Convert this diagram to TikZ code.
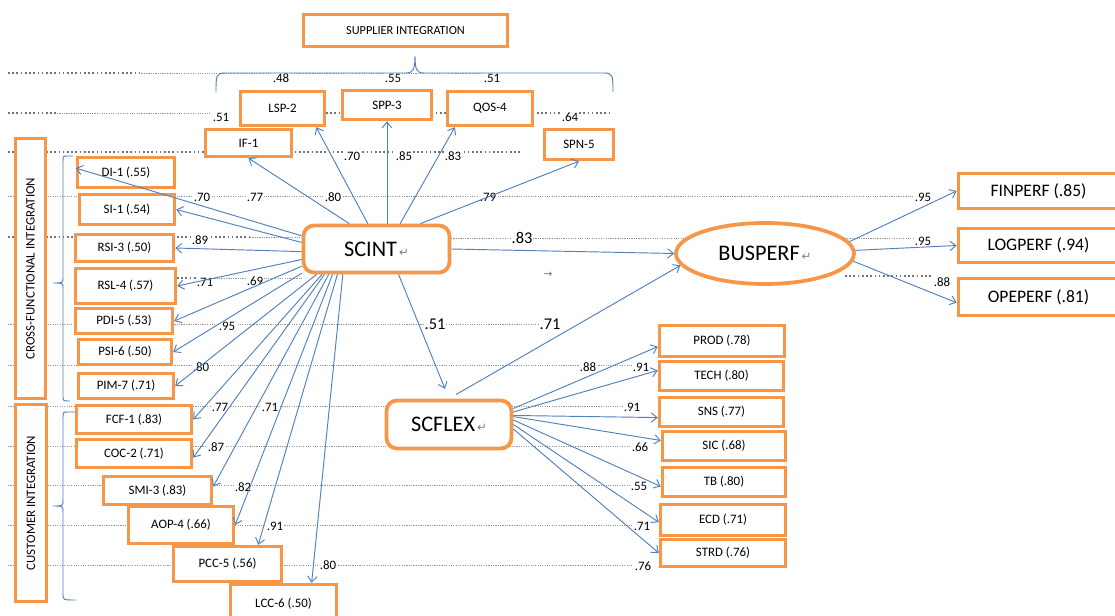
\documentclass[tikz,border=0pt]{standalone}
\usepackage{fontspec}
\setmainfont{Carlito}
\newfontfamily\symfont{DejaVu Sans}
\usetikzlibrary{arrows.meta,shapes.geometric}
\definecolor{borange}{RGB}{247,150,70}
\definecolor{ablue}{RGB}{79,129,189}
\definecolor{dotgray}{RGB}{150,150,150}
\definecolor{dotdark}{RGB}{115,115,115}
\newcommand{\retmark}{{\symfont\color{gray}\fontsize{10}{10}\selectfont\,↵}}
\begin{document}
\begin{tikzpicture}[x=0.03cm,y=-0.03cm,
  wh/.style 2 args={minimum width=#1*0.03cm, minimum height=#2*0.03cm},
  box/.style={draw=borange, line width=2.9pt, fill=white, inner sep=0pt, font=\fontsize{11}{12}\selectfont},
  bigbox/.style={draw=borange, line width=3.2pt, fill=white, inner sep=0pt, font=\fontsize{15}{17}\selectfont},
  rbox/.style={draw=borange, line width=3.2pt, rounded corners=9pt, fill=white, inner sep=0pt, font=\fontsize{19}{22}\selectfont},
  vbox/.style={draw=borange, line width=2.9pt, fill=white, inner sep=0pt},
  arr/.style={draw=ablue, line width=0.8pt, -{Straight Barb[length=5pt,width=8pt]}},
  coef/.style={fill=white, inner sep=0.5pt, font=\fontsize{11}{12}\selectfont},
  bigcoef/.style={fill=white, inner sep=0.5pt, font=\fontsize{14}{16}\selectfont},
  dotrow/.style={draw=dotgray, line width=0.55pt, dash pattern=on 1pt off 1pt},
  dotbold/.style={draw=dotdark, line width=1.3pt, dash pattern=on 1.4pt off 2.2pt},
  brace/.style={draw=ablue, line width=0.8pt}
]
\useasboundingbox (0,0) rectangle (1115,616);
\clip (0,0) rectangle (1115,616);
\fill[white] (0,0) rectangle (1115,616);

% ---------- dotted leader rows ----------
\draw[dotbold] (8,73) -- (139,73);
\draw[dotrow] (139,73) -- (500,73);
\draw[dotbold] (8,113) -- (57,113);
\draw[dotrow] (57,113) -- (212,113);
\draw[dotbold] (326,113) -- (611,113);
\draw[dotbold] (8,152) -- (520,152);
\draw[dotrow] (8,196) -- (913,196);
\draw[dotbold] (8,237) -- (75,237);
\draw[dotbold] (177,237) -- (250,237);
\draw[dotrow] (250,237) -- (302,237);
\draw[dotrow] (451,238) -- (913,238);
\draw[dotbold] (177,278) -- (205,278);
\draw[dotrow] (205,278) -- (302,278);
\draw[dotrow] (8,324) -- (560,324);
\draw[dotrow] (8,365) -- (650,365);
\draw[dotrow] (8,406) -- (630,406);
\draw[dotrow] (8,446) -- (640,446);
\draw[dotrow] (8,485) -- (640,485);
\draw[dotrow] (8,525) -- (640,525);
\draw[dotrow] (8,565) -- (640,565);
\draw[dotbold] (845,276) -- (932,276);

% ---------- coefficient labels ----------
\node[coef] (l48) at (281,78) {.48};
\node[coef] (l55) at (393,78) {.55};
\node[coef] (l51a) at (492,78) {.51};
\node[coef] (l51b) at (221,117) {.51};
\node[coef] (l64) at (570,117) {.64};
\node[coef] (l70a) at (352,156) {.70};
\node[coef] (l85) at (404,156) {.85};
\node[coef] (l83a) at (453,156) {.83};
\node[coef] (l79) at (488,197) {.79};
\node[coef] (l70b) at (202,197) {.70};
\node[coef] (l77a) at (255,197) {.77};
\node[coef] (l80a) at (333,197) {.80};
\node[coef] (l89) at (200,240) {.89};
\node[coef] (l71a) at (205,282) {.71};
\node[coef] (l69) at (255,281) {.69};
\node[coef] (l95a) at (227,326) {.95};
\node[coef] (l80b) at (201,367) {.80};
\node[coef] (l77b) at (220,407) {.77};
\node[coef] (l71b) at (270,407) {.71};
\node[coef] (l87) at (216,447) {.87};
\node[coef] (l82) at (243,487) {.82};
\node[coef] (l91a) at (275,526) {.91};
\node[coef] (l80c) at (328,565) {.80};
\node[bigcoef] (l83b) at (522,238) {.83};
\node[bigcoef] (l51c) at (435,324) {.51};
\node[bigcoef] (l71c) at (550,324) {.71};
\node[coef] (l88a) at (588,367) {.88};
\node[coef] (l91b) at (641,367) {.91};
\node[coef] (l91c) at (632,407) {.91};
\node[coef] (l66) at (640,447) {.66};
\node[coef] (l55b) at (639,486) {.55};
\node[coef] (l71d) at (642,526) {.71};
\node[coef] (l76) at (643,566) {.76};
\node[coef] (l95b) at (923,197) {.95};
\node[coef] (l95c) at (923,241) {.95};
\node[coef] (l88b) at (942,282) {.88};
\node[inner sep=0pt, text=dotdark, font=\symfont\fontsize{9}{9}\selectfont] (garrow) at (548,275) {→};

% ---------- braces ----------
\draw[brace] (216,92) .. controls (216,76) and (216,73) .. (225,73) -- (406,73)
  .. controls (413,73) and (415,70) .. (415,56)
  .. controls (415,70) and (417,73) .. (424,73) -- (604,73)
  .. controls (613,73) and (613,76) .. (613,92);
\draw[brace] (73,156) -- (68,156) .. controls (63,156) .. (63,162) -- (63,278)
  .. controls (63,283) .. (53,283) .. controls (63,283) .. (63,288) -- (63,396)
  .. controls (63,401) .. (70,401);
\draw[brace] (75,412) -- (68,412) .. controls (63,412) .. (63,418) -- (63,500)
  .. controls (63,506) .. (53,506) .. controls (63,506) .. (63,512) -- (63,594)
  .. controls (63,600) .. (76,600);

% ---------- boxes ----------
\node[box, wh={204}{32}, font=\fontsize{10.5}{12}\selectfont] (supp) at (405.5,30.5) {SUPPLIER INTEGRATION};
\node[box, wh={84}{34}] (lsp) at (282.5,108.5) {LSP-2};
\node[box, wh={89}{29}] (spp) at (387,105) {SPP-3};
\node[box, wh={85}{34}] (qos) at (490,108.5) {QOS-4};
\node[box, wh={86}{27}] (if1) at (248.5,143) {IF-1};
\node[box, wh={69}{30}] (spn) at (579,144.5) {SPN-5};

\node[vbox, wh={30}{260}] (cfi) at (30.5,268.5) {};
\node[rotate=90, inner sep=0pt, font=\fontsize{11}{12}\selectfont] (cfit) at (cfi.center) {CROSS-FUNCTIONAL INTEGRATION};
\node[vbox, wh={31}{197}] (ci) at (31,503) {};
\node[rotate=90, inner sep=0pt, font=\fontsize{11}{12}\selectfont] (cit) at (ci.center) {CUSTOMER INTEGRATION};

\node[box, wh={97}{30}] (di) at (126,172.5) {DI-1 (.55)};
\node[box, wh={95}{30}] (si) at (127,209.5) {SI-1 (.54)};
\node[box, wh={98}{27}] (rsi) at (124.5,248) {RSI-3 (.50)};
\node[box, wh={100}{35}] (rsl) at (125.5,286) {RSL-4 (.57)};
\node[box, wh={97}{25}] (pdi) at (124,321) {PDI-5 (.53)};
\node[box, wh={93}{25}] (psi) at (125,352) {PSI-6 (.50)};
\node[box, wh={95}{25}] (pim) at (126,386) {PIM-7 (.71)};
\node[box, wh={115}{28}] (fcf) at (134,419.5) {FCF-1 (.83)};
\node[box, wh={115}{28}] (coc) at (134,453.5) {COC-2 (.71)};
\node[box, wh={108}{28}] (smi) at (157.5,490.5) {SMI-3 (.83)};
\node[box, wh={105}{37}] (aop) at (181,525) {AOP-4 (.66)};
\node[box, wh={108}{35}] (pcc) at (227.5,564) {PCC-5 (.56)};
\node[box, wh={106}{39}] (lcc) at (283.5,604) {LCC-6 (.50)};

\node[rbox, wh={146}{47}] (scint) at (376.5,249) {SCINT\retmark};
\node[rbox, wh={125}{48}] (scflex) at (449,424.5) {SCFLEX\retmark};
\node[ellipse, draw=borange, line width=3.2pt, fill=white, inner sep=0pt, wh={178}{61}, font=\fontsize{19}{22}\selectfont] (busperf) at (765,253.5) {BUSPERF\retmark};

\node[box, wh={125}{31}] (prod) at (722,341) {PROD (.78)};
\node[box, wh={124}{29}] (tech) at (721.5,376) {TECH (.80)};
\node[box, wh={124}{29}] (sns) at (721.5,412) {SNS (.77)};
\node[box, wh={123}{29}] (sic) at (724,446) {SIC (.68)};
\node[box, wh={123}{29}] (tb) at (724,482) {TB (.80)};
\node[box, wh={125}{31}] (ecd) at (723,520) {ECD (.71)};
\node[box, wh={125}{27}] (strd) at (723,553) {STRD (.76)};

\node[bigbox, wh={160}{35}] (finperf) at (1038.5,191) {FINPERF (.85)};
\node[bigbox, wh={160}{34}] (logperf) at (1038.5,245.5) {LOGPERF (.94)};
\node[bigbox, wh={160}{37}] (opeperf) at (1038.5,297) {OPEPERF (.81)};

% ---------- connectors ----------
\draw[arr] (scint.137) -- (if1.south);
\draw[arr] (scint.109) -- (lsp.331);
\draw[arr] (scint.north -| spp.south) -- (spp.south);
\draw[arr] (scint.47) -- (qos.208);
\draw[arr] (scint.30) -- (spn.south);

\draw[arr] (scint.170) -- (di.175);
\draw[arr] (scint.175) -- (si.east);
\draw[arr] (scint.182) -- (rsi.east);
\draw[arr] (scint.188) -- (rsl.east);
\draw[arr] (scint.193) -- (pdi.east);
\draw[arr] (scint.198) -- (psi.east);
\draw[arr] (scint.203) -- (pim.east);
\draw[arr] (scint.205) -- (fcf.east);
\draw[arr] (scint.206) -- (coc.356);
\draw[arr] (scint.208) -- (smi.4);
\draw[arr] (scint.210) -- (aop.east);
\draw[arr] (scint.213) -- (pcc.32);
\draw[arr] (scint.217) -- (lcc.37);

\draw[arr] (scint.east) -- (busperf.west);
\draw[arr, shorten >=9pt] (scint.311) -- (scflex.north);
\draw[arr, shorten <=7pt] (scflex.north) -- (busperf.188);

\draw[arr] (scflex.14) -- (prod.185);
\draw[arr] (scflex.11) -- (tech.175);
\draw[arr] (scflex.8) -- (sns.185);
\draw[arr] (scflex.7) -- (sic.175);
\draw[arr] (scflex.4) -- (tb.184);
\draw[arr] (scflex.0) -- (ecd.182);
\draw[arr] (scflex.356) -- (strd.west);

\draw[arr] (busperf.8) -- (finperf.west);
\draw[arr] (busperf.2) -- (logperf.west);
\draw[arr] (busperf.-5) -- (opeperf.184);
\end{tikzpicture}
\end{document}
